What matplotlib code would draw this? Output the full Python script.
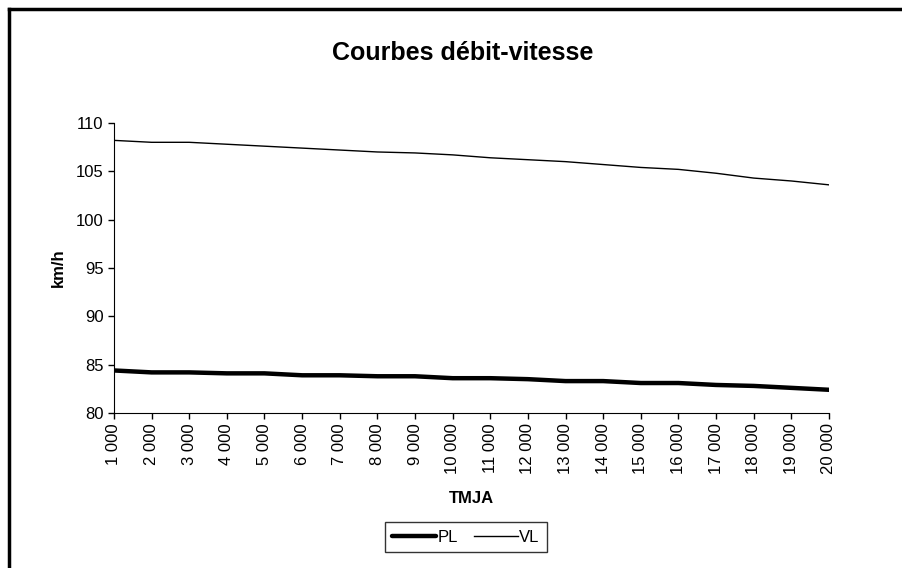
import matplotlib
matplotlib.use("Agg")
import matplotlib.pyplot as plt
from matplotlib.lines import Line2D

plt.rcParams['font.family'] = ['Liberation Sans', 'DejaVu Sans']

# TMJA categories
tmja = [1000, 2000, 3000, 4000, 5000, 6000, 7000, 8000, 9000, 10000,
        11000, 12000, 13000, 14000, 15000, 16000, 17000, 18000, 19000, 20000]
tick_labels = ["{:,}".format(v).replace(",", " ") for v in tmja]

# speeds (km/h)
pl = [84.4, 84.2, 84.2, 84.1, 84.1, 83.9, 83.9, 83.8, 83.8, 83.6,
      83.6, 83.5, 83.3, 83.3, 83.1, 83.1, 82.9, 82.8, 82.6, 82.4]
vl = [108.2, 108.0, 108.0, 107.8, 107.6, 107.4, 107.2, 107.0, 106.9, 106.7,
      106.4, 106.2, 106.0, 105.7, 105.4, 105.2, 104.8, 104.3, 104.0, 103.6]

fig = plt.figure(figsize=(9.03, 5.68), dpi=100)
ax = fig.add_axes([0.1262, 0.2729, 0.7918, 0.5106])

x = list(range(len(tmja)))
ax.plot(x, pl, color='black', lw=3.2, label='PL', solid_capstyle='round')
ax.plot(x, vl, color='black', lw=1.0, label='VL')

ax.set_xlim(0, len(tmja) - 1)
ax.set_ylim(80, 110)
ax.set_yticks([80, 85, 90, 95, 100, 105, 110])
ax.set_xticks(x)
ax.set_xticklabels(tick_labels, rotation=90, fontsize=12)
ax.tick_params(axis='y', labelsize=12)
ax.tick_params(direction='out', length=4, width=1)
ax.spines['top'].set_visible(False)
ax.spines['right'].set_visible(False)

ax.set_xlabel('TMJA', fontsize=12, fontweight='bold', labelpad=12)
ax.set_ylabel('km/h', fontsize=12, fontweight='bold', labelpad=7)

fig.text(0.512, 0.907, 'Courbes débit-vitesse', ha='center', va='center',
         fontsize=18, fontweight='bold')

leg = fig.legend(loc='center', bbox_to_anchor=(0.516, 0.054), ncol=2,
                 fontsize=12, frameon=True, fancybox=False, handlelength=2.6,
                 handletextpad=0.1, columnspacing=1.0, borderpad=0.45)
leg.get_frame().set_edgecolor('black')
leg.get_frame().set_linewidth(1.0)

# outer frame (left and top only visible)
fig.add_artist(Line2D([9 / 903, 9 / 903], [0, 1 - 9 / 568], transform=fig.transFigure,
                      color='black', lw=2.5))
fig.add_artist(Line2D([9 / 903, 1], [1 - 9 / 568, 1 - 9 / 568], transform=fig.transFigure,
                      color='black', lw=2.5))

fig.savefig('out.png', dpi=100)
